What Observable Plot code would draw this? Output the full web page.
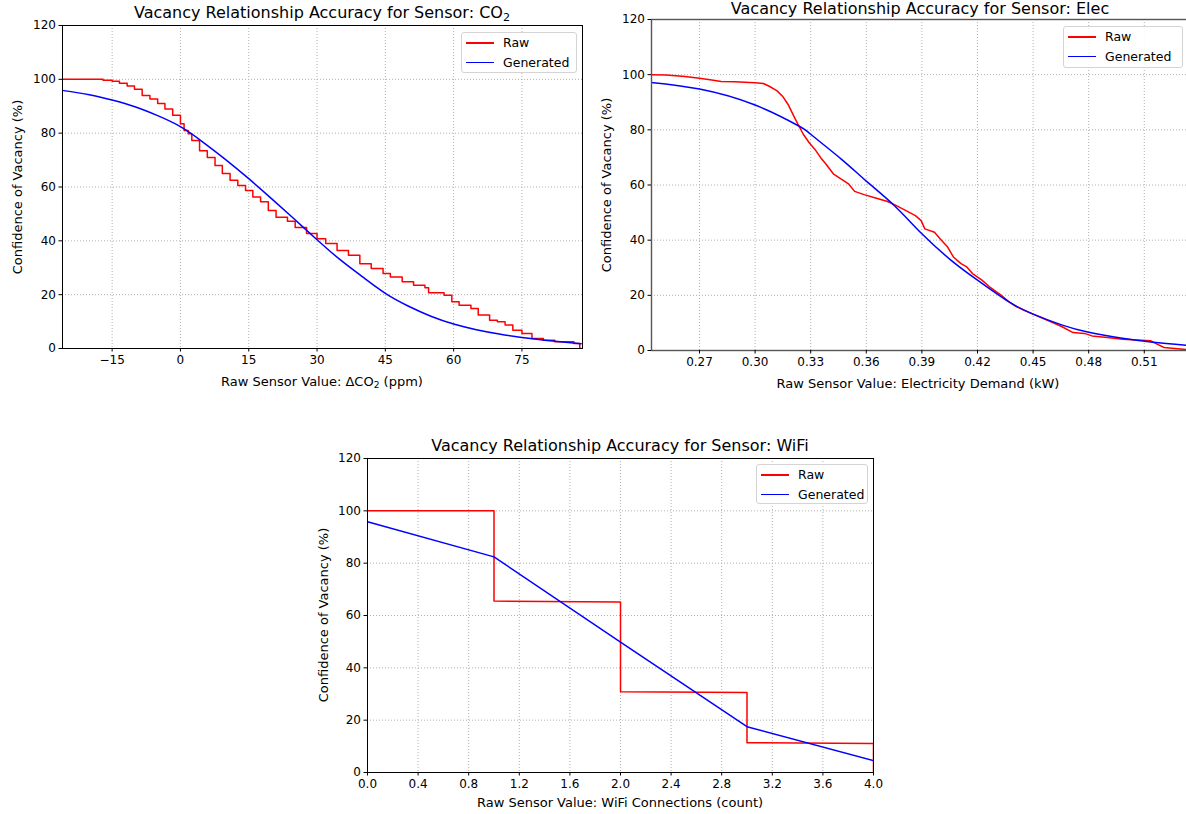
<!DOCTYPE html>
<html><head><meta charset="utf-8">
<script src="https://cdn.jsdelivr.net/npm/d3@7"></script>
<script src="https://cdn.jsdelivr.net/npm/@observablehq/plot@0.6"></script>
<style>
body{margin:0;background:#fff;}
#root{position:relative;width:1186px;height:814px;overflow:hidden;font-family:"DejaVu Sans",sans-serif;color:#000;background:#fff;}
.abs{position:absolute;white-space:nowrap;line-height:1;}
.title{font-size:16px;}
.alabel{font-size:13px;}
.legend{position:absolute;border:1px solid #d4d4d4;border-radius:3px;background:rgba(255,255,255,0.85);font-size:12.5px;box-sizing:border-box;}
.legend .sw{position:absolute;height:1.6px;}
.legend .tx{position:absolute;}
sub{font-size:70%;vertical-align:-0.25em;line-height:0;}
.pl{position:absolute;}
</style></head><body><div id="root"></div><script>
// ---------- DATA ----------
const yTicks = [0, 20, 40, 60, 80, 100, 120];

// CO2 panel
const co2XTicks = [-15, 0, 15, 30, 45, 60, 75];
const co2RawX = [-26,-20,-17,-15,-13.4,-11.7,-10.1,-8.4,-6.7,-5,-3.4,-1.7,0,0.8,1.7,2.5,4.2,5.9,7.6,9.2,10.9,12.6,14.3,15.9,17.6,19.3,21,23.5,25.2,27.7,30,31.9,34.4,36.9,39.4,41.9,44.5,46.1,48.7,51.2,53.7,54.5,57.9,59.6,61.2,63.8,65.4,67.9,69.6,71.3,73,75,77.2,79.7,82.2,86.4,87.7,88];
const co2RawY = [100,100,99.7,99.3,98.5,97.5,96.3,94,92.7,91,89,86.7,83.5,81,79.8,77.3,73.5,71,68,65,62.5,60.6,58.7,56.3,54.5,51.3,48.8,47.3,45,42.7,40.8,39,36.4,34.6,31.5,29.7,27.9,26.6,24.8,23.5,22.6,20.7,19.8,17.4,16.1,14.9,12.4,10.5,9.9,8.7,6.8,5.6,3.7,3.1,2.5,1.9,0,0];
const co2GenX = [-26,-20,-15,-10,-5,0,5,10,15,20,25,30,35,40,45,50,55,60,65,70,75,80,88];
const co2GenY = [95.9,94.3,92.3,89.8,86.5,82.4,76.6,70.1,63.1,55.7,48.1,40.4,33.1,26.6,20.5,15.8,12,9.1,7,5.4,4.1,3.1,1.8];

// Elec panel
const elecXTicks = [0.27, 0.30, 0.33, 0.36, 0.39, 0.42, 0.45, 0.48, 0.51];
const elecRawX = [0.2437,0.252,0.2622,0.27,0.2766,0.2817,0.2889,0.30,0.3045,0.3076,0.3117,0.3148,0.3178,0.3209,0.3236,0.326,0.3291,0.3322,0.3353,0.3383,0.3424,0.3465,0.3506,0.3537,0.3588,0.365,0.3711,0.3752,0.3814,0.3865,0.3896,0.3916,0.3968,0.3998,0.4039,0.407,0.4111,0.4142,0.4173,0.4224,0.4265,0.4327,0.4368,0.4409,0.4449,0.45,0.4552,0.4593,0.4654,0.4716,0.4777,0.4818,0.49,0.4982,0.5064,0.5136,0.5166,0.5207,0.5345];
const elecRawY = [100,99.9,99.3,98.7,98.1,97.5,97.4,97.1,96.8,95.8,94.2,92.2,89.2,85,81.4,78.4,75.4,73,70,67.5,63.9,62.1,60.3,57.7,56.5,55.3,54.1,52.9,50.7,48.9,47.1,44.1,42.9,40.5,37.5,33.9,31.5,30.3,27.9,25.5,23.1,20.1,17.7,15.9,14.7,13.2,11.7,10.5,8.7,6.5,6.2,5.3,4.7,4.1,3.8,3.5,2.4,1.1,0.2];
const elecGenX = [0.2437,0.27,0.30,0.3236,0.33,0.3465,0.36,0.3752,0.39,0.4058,0.42,0.4368,0.45,0.4654,0.48,0.4982,0.5146,0.5345];
const elecGenY = [97.2,94.8,89,81.4,78.4,69.4,61.4,52.5,42.3,32.7,25.5,17.7,13.2,9.3,6.6,4.4,3,1.8];

// WiFi panel
const wifiXTicks = [0, 0.4, 0.8, 1.2, 1.6, 2.0, 2.4, 2.8, 3.2, 3.6, 4.0];
const wifiRawX = [0, 1, 1, 2, 2, 3, 3, 4, 4];
const wifiRawY = [100, 100, 65.5, 65.2, 30.9, 30.6, 11.4, 11.1, 0];
const wifiGenX = [0, 1, 2, 3, 4];
const wifiGenY = [95.8, 82.4, 49.8, 17.5, 4.5];

const legendLabels = ["Raw", "Generated"];
const seriesColors = ["#ff0000", "#0000ff"];

// ---------- DRAW ----------
const root = document.getElementById("root");
const zip = (xs, ys) => xs.map((x, i) => ({x, y: ys[i]}));

function addText(html, cls, x, y, rotate) {
  const d = document.createElement("div");
  d.className = "abs " + cls;
  d.innerHTML = html;
  d.style.left = x + "px";
  d.style.top = y + "px";
  d.style.transform = "translate(-50%,-50%)" + (rotate ? " rotate(-90deg)" : "");
  root.appendChild(d);
}

function addLegend(left, top, w, h) {
  const L = document.createElement("div");
  L.className = "legend";
  Object.assign(L.style, {left: left + "px", top: top + "px", width: w + "px", height: h + "px"});
  legendLabels.forEach((lab, i) => {
    const cy = 3 + i * 19.5;
    const sw = document.createElement("div");
    sw.className = "sw";
    Object.assign(sw.style, {left: "4px", width: "28px", top: (cy + 6) + "px", background: seriesColors[i]});
    const tx = document.createElement("div");
    tx.className = "tx";
    tx.textContent = lab;
    Object.assign(tx.style, {left: "41px", top: cy + "px", lineHeight: "14px"});
    L.appendChild(sw); L.appendChild(tx);
  });
  root.appendChild(L);
}

function panel(o) {
  const chart = Plot.plot({
    width: o.width, height: o.height,
    marginLeft: o.mL, marginRight: o.mR, marginTop: o.mT, marginBottom: o.mB,
    x: {domain: o.xDomain},
    y: {domain: [0, 120]},
    style: {fontFamily: "DejaVu Sans", fontSize: "12px", background: "transparent", color: "#000", overflow: "visible"},
    marks: [
      Plot.gridX({ticks: o.xTicks, stroke: "#b0b0b0", strokeOpacity: 1, strokeDasharray: "1,2", strokeWidth: 1}),
      Plot.gridY({ticks: yTicks, stroke: "#b0b0b0", strokeOpacity: 1, strokeDasharray: "1,2", strokeWidth: 1}),
      Plot.line(o.raw, {x: "x", y: "y", stroke: seriesColors[0], strokeWidth: 1.5, curve: o.rawCurve, clip: true}),
      Plot.line(o.gen, {x: "x", y: "y", stroke: seriesColors[1], strokeWidth: 1.5, curve: o.genCurve, clip: true}),
      Plot.frame({stroke: o.frameColor || "#000", strokeWidth: o.frameWidth || 1}),
      Plot.axisX({ticks: o.xTicks, tickFormat: o.xFmt, tickSize: 3.5, tickPadding: 3, label: null, fontSize: 12}),
      Plot.axisY({ticks: yTicks, tickSize: 3.5, tickPadding: 3, label: null, fontSize: 12})
    ]
  });
  chart.classList.add("pl");
  chart.style.left = o.left + "px";
  chart.style.top = o.top + "px";
  root.appendChild(chart);
}

// CO2 (frame 62..582, 25..348)
panel({left: 0, top: 0, width: 590, height: 400, mL: 62, mR: 8, mT: 25, mB: 52,
  xDomain: [-25.9, 88.3], xTicks: co2XTicks, xFmt: d => d < 0 ? "\u2212" + Math.abs(d) : String(d),
  raw: zip(co2RawX, co2RawY), gen: zip(co2GenX, co2GenY), rawCurve: "step-after", genCurve: "natural"});
addText("Vacancy Relationship Accuracy for Sensor: CO<sub>2</sub>", "title", 322, 13);
addText("Raw Sensor Value: \u0394CO<sub>2</sub> (ppm)", "alabel", 322, 381);
addText("Confidence of Vacancy (%)", "alabel", 17, 187, true);
addLegend(461, 32, 116, 41);

// Elec (frame 651..1189, 19..350)
panel({left: 590, top: 0, width: 600, height: 400, mL: 61, mR: 1, mT: 19, mB: 50,
  xDomain: [0.2441, 0.5344], xTicks: elecXTicks, xFmt: d3.format(".2f"),
  raw: zip(elecRawX, elecRawY), gen: zip(elecGenX, elecGenY), rawCurve: "linear", genCurve: "natural",
  frameColor: "#555", frameWidth: 1.4});
addText("Vacancy Relationship Accuracy for Sensor: Elec", "title", 920, 9);
addText("Raw Sensor Value: Electricity Demand (kW)", "alabel", 918, 383);
addText("Confidence of Vacancy (%)", "alabel", 606, 185, true);
addLegend(1063, 26, 120, 42);

// WiFi (frame 367..873, 458..772)
panel({left: 300, top: 430, width: 600, height: 384, mL: 67, mR: 27, mT: 28, mB: 42,
  xDomain: [0, 4], xTicks: wifiXTicks, xFmt: d3.format(".1f"),
  raw: zip(wifiRawX, wifiRawY), gen: zip(wifiGenX, wifiGenY), rawCurve: "linear", genCurve: "linear"});
addText("Vacancy Relationship Accuracy for Sensor: WiFi", "title", 620, 446);
addText("Raw Sensor Value: WiFi Connections (count)", "alabel", 620, 802);
addText("Confidence of Vacancy (%)", "alabel", 323, 615, true);
addLegend(756, 464, 112, 40);
</script></body></html>
